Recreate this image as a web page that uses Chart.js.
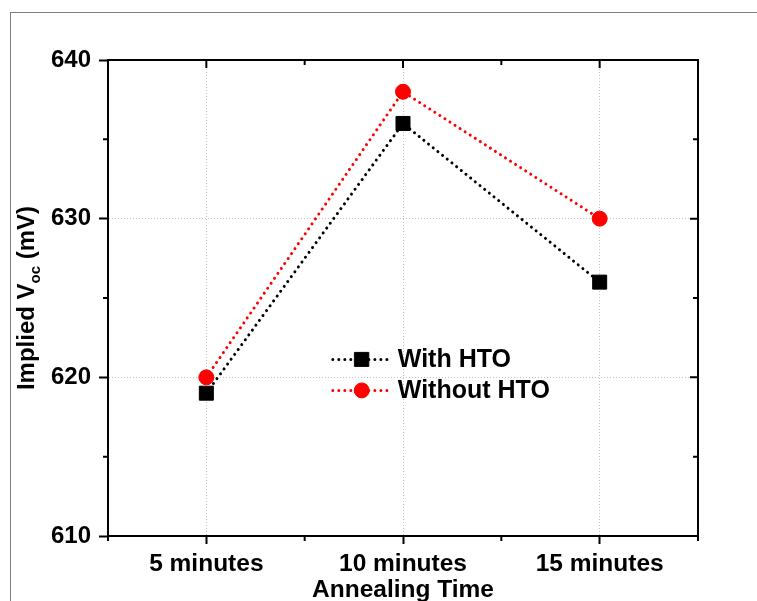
<!DOCTYPE html>
<html>
<head>
<meta charset="utf-8">
<script src="https://cdn.jsdelivr.net/npm/chart.js@4.4.1/dist/chart.umd.min.js"></script>
<style>
  html, body { margin: 0; padding: 0; background: #fff; }
  #wrap { position: relative; width: 757px; height: 601px; overflow: hidden; }
  #outline { position: absolute; left: 10px; top: 12px; width: 800px; height: 700px;
    border-left: 1px solid #7f7f7f; border-top: 1px solid #7f7f7f; }
  #chartVoc { position: absolute; left: 0; top: 0; }
</style>
</head>
<body>
<div id="wrap">
  <div id="outline"></div>
  <canvas id="chartVoc" width="757" height="601"></canvas>
</div>
<script>
const categories = ['5 minutes', '10 minutes', '15 minutes'];
const withHto = [619, 636, 626];
const withoutHto = [620, 638, 630];
const seriesNames = ['With HTO', 'Without HTO'];
const yTicks = [610, 620, 630, 640];

const FONT = "'Liberation Sans', Arial, sans-serif";
const DOTS = [0.01, 6];

// top/right frame plus the minor ticks
const framePlugin = {
  id: 'frame',
  afterDraw(chart) {
    const { ctx, chartArea: a, scales: { x, y } } = chart;
    ctx.save();
    ctx.strokeStyle = '#000';
    ctx.lineWidth = 2;
    ctx.beginPath();
    ctx.moveTo(a.left - 1, a.top);
    ctx.lineTo(a.right, a.top);
    ctx.lineTo(a.right, a.bottom + 1);
    yTicks.forEach((v, i) => {
      const py = y.getPixelForValue(v);
      ctx.moveTo(a.right, py);
      ctx.lineTo(a.right - 8, py);
      if (i < yTicks.length - 1) {
        const my = y.getPixelForValue((v + yTicks[i + 1]) / 2);
        ctx.moveTo(a.left, my);
        ctx.lineTo(a.left - 5, my);
        ctx.moveTo(a.right, my);
        ctx.lineTo(a.right - 5, my);
      }
    });
    for (let i = 0; i <= categories.length; i++) {
      const mx = x.getPixelForValue(i - 0.5);
      ctx.moveTo(mx, a.bottom);
      ctx.lineTo(mx, a.bottom + 5);
      ctx.moveTo(mx, a.top);
      ctx.lineTo(mx, a.top + 5);
      if (i < categories.length) {
        const px = x.getPixelForValue(i);
        ctx.moveTo(px, a.top);
        ctx.lineTo(px, a.top + 8);
      }
    }
    ctx.stroke();
    ctx.restore();
  },
};

// legend with line + marker sample, placed inside the plot
const legendPlugin = {
  id: 'insideLegend',
  afterDraw(chart) {
    const { ctx, chartArea: a } = chart;
    const x0 = a.left + a.width * 0.381;
    const y0 = a.top + a.height * 0.629;
    const rowGap = 31;
    chart.data.datasets.forEach((ds, i) => {
      const yy = y0 + i * rowGap;
      ctx.save();
      ctx.strokeStyle = ds.borderColor;
      ctx.lineWidth = 3;
      ctx.lineCap = 'round';
      ctx.setLineDash(DOTS);
      ctx.beginPath();
      ctx.moveTo(x0, yy);
      ctx.lineTo(x0 + 56, yy);
      ctx.stroke();
      ctx.setLineDash([]);
      ctx.fillStyle = ds.backgroundColor;
      ctx.strokeStyle = ds.borderColor;
      ctx.lineWidth = 1;
      Chart.helpers.drawPoint(ctx, { pointStyle: ds.pointStyle, radius: ds.pointRadius, rotation: 0, borderWidth: 1 }, x0 + 29, yy);
      ctx.fillStyle = '#000';
      ctx.font = `bold 25px ${FONT}`;
      ctx.textBaseline = 'middle';
      ctx.textAlign = 'left';
      ctx.fillText(ds.label, x0 + 65, yy + 1);
      ctx.restore();
    });
  },
};

// y title with the "oc" subscript
const yTitlePlugin = {
  id: 'yTitle',
  afterDraw(chart) {
    const { ctx, chartArea: a } = chart;
    const parts = [
      { text: 'Implied V', size: 24, dy: 0 },
      { text: 'oc', size: 15, dy: 6 },
      { text: ' (mV)', size: 24, dy: 0 },
    ];
    ctx.save();
    let total = 0;
    parts.forEach((p) => {
      ctx.font = `bold ${p.size}px ${FONT}`;
      p.w = ctx.measureText(p.text).width;
      total += p.w;
    });
    ctx.translate(34, (a.top + a.bottom) / 2);
    ctx.rotate(-Math.PI / 2);
    ctx.fillStyle = '#000';
    ctx.textBaseline = 'alphabetic';
    let cx = -total / 2;
    parts.forEach((p) => {
      ctx.font = `bold ${p.size}px ${FONT}`;
      ctx.fillText(p.text, cx, p.dy);
      cx += p.w;
    });
    ctx.restore();
  },
};

const canvas = document.getElementById('chartVoc');

new Chart(canvas.getContext('2d'), {
  type: 'line',
  data: {
    labels: categories,
    datasets: [
      {
        label: seriesNames[0],
        data: withHto,
        borderColor: '#000000',
        backgroundColor: '#000000',
        borderWidth: 3,
        borderDash: DOTS,
        borderCapStyle: 'round',
        pointStyle: 'rect',
        pointRadius: 9.9,
        pointBorderWidth: 1,
        tension: 0,
        fill: false,
      },
      {
        label: seriesNames[1],
        data: withoutHto,
        borderColor: '#ff0000',
        backgroundColor: '#ff0000',
        borderWidth: 3,
        borderDash: DOTS,
        borderCapStyle: 'round',
        pointStyle: 'circle',
        pointRadius: 7.5,
        pointBorderWidth: 1,
        tension: 0,
        fill: false,
      },
    ],
  },
  options: {
    responsive: false,
    animation: false,
    devicePixelRatio: 1,
    layout: { padding: { top: 60, right: 59, left: 0, bottom: 0 } },
    scales: {
      x: {
        offset: true,
        afterFit: (scale) => { scale.height = 65; },
        grid: {
          offset: false,
          color: '#c4c4c4',
          lineWidth: 1,
          tickColor: '#000',
          tickWidth: 2,
          tickLength: 8,
        },
        border: { display: true, color: '#000', width: 2, dash: [1, 2] },
        ticks: {
          color: '#000',
          padding: 6,
          maxRotation: 0,
          font: { family: FONT, size: 24.5, weight: 'bold' },
        },
        title: {
          display: true,
          text: 'Annealing Time',
          color: '#000',
          padding: { top: 0, bottom: 0 },
          font: { family: FONT, size: 24.5, weight: 'bold', lineHeight: 0.85 },
        },
      },
      y: {
        min: 610,
        max: 640,
        afterFit: (scale) => { scale.width = 108; },
        afterBuildTicks: (scale) => { scale.ticks = yTicks.map((v) => ({ value: v })); },
        grid: {
          color: '#c4c4c4',
          lineWidth: 1,
          tickColor: '#000',
          tickWidth: 2,
          tickLength: 9,
        },
        border: { display: true, color: '#000', width: 2, dash: [1, 2] },
        ticks: {
          color: '#000',
          padding: 8,
          font: { family: FONT, size: 24, weight: 'bold' },
        },
      },
    },
    plugins: {
      legend: { display: false },
      tooltip: { enabled: false },
    },
  },
  plugins: [framePlugin, legendPlugin, yTitlePlugin],
});
</script>
</body>
</html>
